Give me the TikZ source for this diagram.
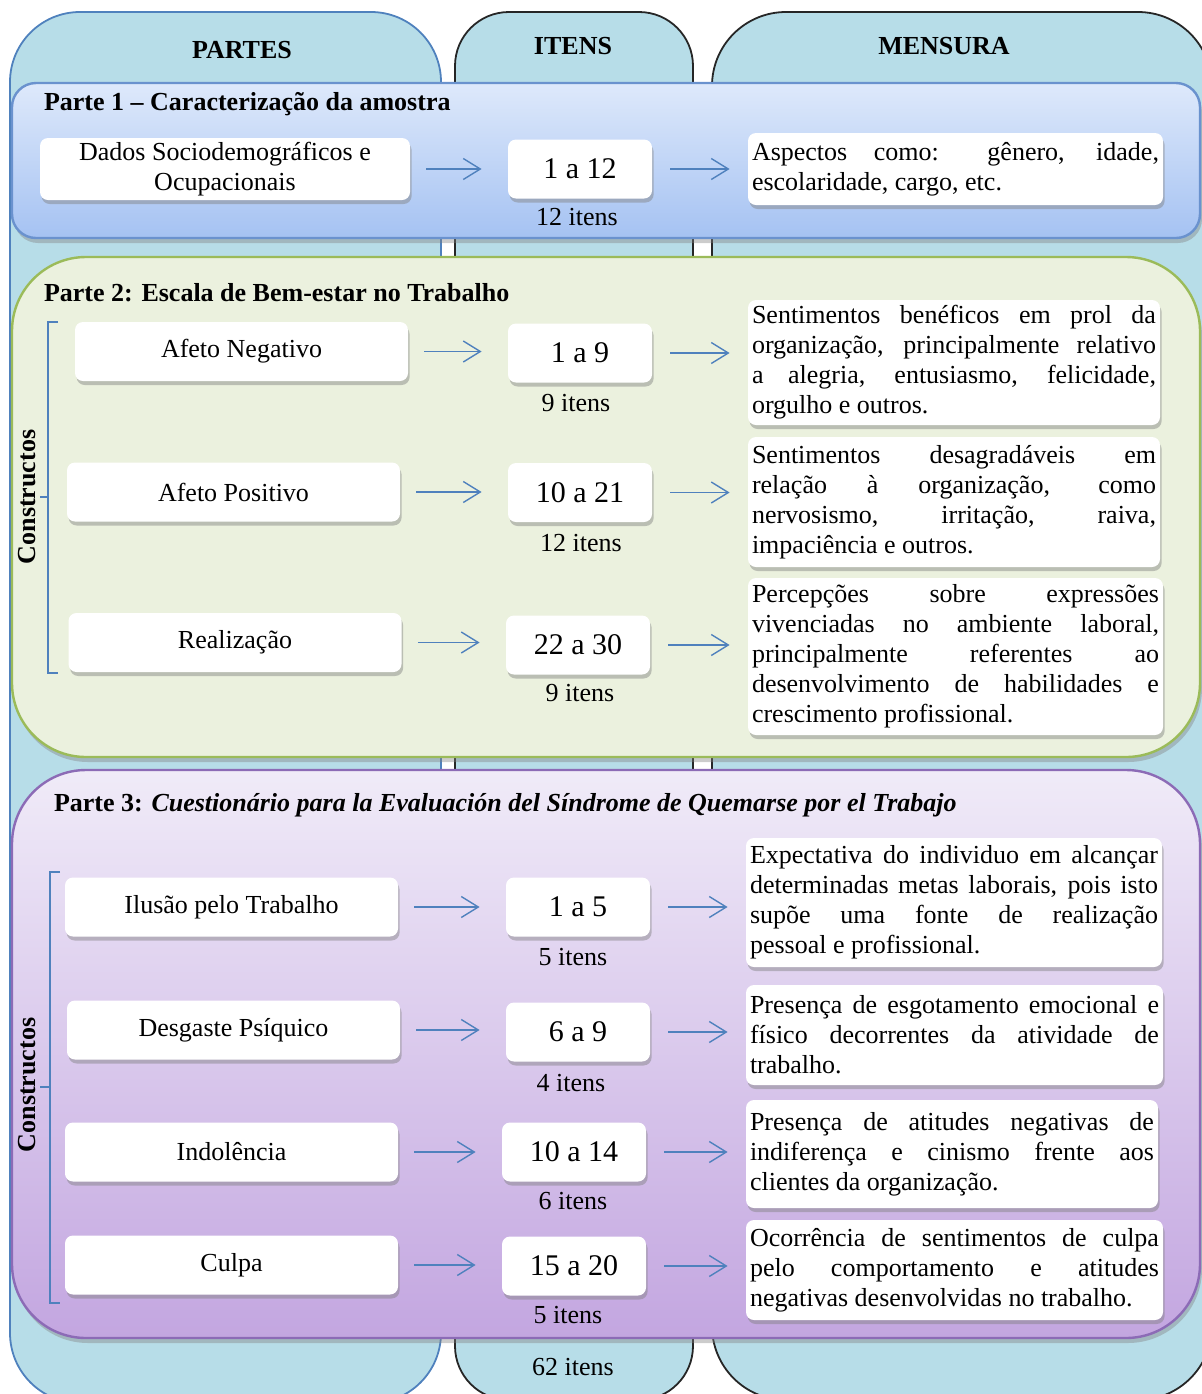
\documentclass[tikz,border=0pt]{standalone}
\usepackage{fontspec}
\setmainfont{Liberation Serif}
\usepackage{tikz}
\usetikzlibrary{arrows.meta, shadows}
\definecolor{colfill}{HTML}{B7DDE8}
\definecolor{colline}{HTML}{4F81BD}
\definecolor{coldark}{HTML}{262626}
\definecolor{ponetop}{HTML}{DEE9FB}
\definecolor{ponebot}{HTML}{A5C2F2}
\definecolor{poneline}{HTML}{6A92CE}
\definecolor{ptwofill}{HTML}{EBF1DE}
\definecolor{ptwoline}{HTML}{9BBB59}
\definecolor{pthreetop}{HTML}{F0EBF8}
\definecolor{pthreebot}{HTML}{C3A6E0}
\definecolor{pthreeline}{HTML}{8C6BB6}
\definecolor{arrowblue}{HTML}{4F81BD}

\begin{document}
\begin{tikzpicture}[x=0.5pt, y=-0.5pt,
    col/.style={fill=colfill, line width=0.9pt},
    panel/.style={line width=1.2pt, drop shadow={shadow xshift=1pt, shadow yshift=-2.5pt, opacity=0.4}},
    wbox/.style={fill=white, rounded corners=4pt, inner sep=2pt, drop shadow={shadow xshift=0.8pt, shadow yshift=-2pt, opacity=0.45}},
    lbl/.style={wbox, align=center, minimum width=166.5pt, minimum height=29.5pt, font=\fontsize{13}{15}\selectfont},
    num/.style={wbox, minimum width=72pt, minimum height=29.5pt, font=\fontsize{15}{17}\selectfont},
    desc/.style={wbox, align=justify, font=\fontsize{13}{15}\selectfont},
    its/.style={font=\fontsize{13}{15}\selectfont},
    head/.style={font=\bfseries\fontsize{13}{15}\selectfont},
    arr/.style={draw=arrowblue, line width=0.7pt, -{Straight Barb[length=8.5pt,width=10.5pt]}},
    arra/.style={arr, shorten <=8pt, shorten >=13pt},
    arrb/.style={arr, shorten <=9pt, shorten >=9pt},
    brk/.style={draw=colline, line width=0.8pt}]
      \useasboundingbox (0,0) rectangle (1202,1394);
      \clip (0,0) rectangle (1202,1394);

      % columns
      \draw [col, draw=colline, rounded corners=35pt] (10,1403) rectangle (441,12);
      \draw [col, draw=coldark, rounded corners=27pt] (455,1400) rectangle (693,12);
      \draw [col, draw=coldark, rounded corners=37pt] (712,1400) rectangle (1212,12);
      \node[head] (hd1) at (242,50) {PARTES};
      \node[head] (hd2) at (573,46) {ITENS};
      \node[head] (hd3) at (944,46) {MENSURA};

      % parte 1
      \draw [panel, top color=ponetop, bottom color=ponebot, draw=poneline, rounded corners=12pt] (12,83) rectangle (1200,238);
      \node[head, anchor=west] (p1t) at (37,104) {Parte 1 – Caracterização da amostra};
      \node[lbl, minimum width=185pt, minimum height=31pt] (p1l) at (225,169) {Dados Sociodemográficos e\\Ocupacionais};
      \node[num] (p1n) at (580,169) {1 a 12};
      \node[its] (p1i) at (577,217) {12 itens};
      \node[desc, text width=203.5pt, minimum height=36pt] (p1d) at (955.5,169) {Aspectos como: gênero, idade,\linebreak escolaridade, cargo, etc.};
      \draw [arra] (p1l.east) -- (p1l.east -| p1n.west);
      \draw [arrb] (p1n.east) -- (p1n.east -| p1d.west);

      % parte 2
      \draw [panel, fill=ptwofill, draw=ptwoline, rounded corners=37pt] (12,257) rectangle (1200,757);
      \node[head, anchor=west] (p2t) at (37,293) {Parte 2: Escala de Bem-estar no Trabalho};
      \node[head, rotate=90] (c2) at (27,497) {Constructos};
      \draw [brk] (58,322) -- (48,322) -- (48,673) -- (58,673);
      \draw [brk] (48,497) -- (40,497);

      \node[lbl] (p2a) at (241.5,351.5) {Afeto Negativo};
      \node[lbl] (p2b) at (233.5,492) {Afeto Positivo};
      \node[lbl] (p2c) at (235,642.5) {Realização};
      \node[num] (p2an) at (580,353) {1 a 9};
      \node[num] (p2bn) at (580,492.5) {10 a 21};
      \node[num] (p2cn) at (578,645) {22 a 30};
      \node[its] (p2ai) at (576,403) {9 itens};
      \node[its] (p2bi) at (581,543) {12 itens};
      \node[its] (p2ci) at (580,693) {9 itens};
      \node[desc, text width=202pt, minimum height=62.5pt] (p2ad) at (954,362.5) {Sentimentos benéficos em prol da\linebreak organização, principalmente relativo\linebreak a alegria, entusiasmo, felicidade,\linebreak orgulho e outros.};
      \node[desc, text width=202pt, minimum height=65pt] (p2bd) at (954,502) {Sentimentos desagradáveis em\linebreak relação à organização, como\linebreak nervosismo, irritação, raiva,\linebreak impaciência e outros.};
      \node[desc, text width=203.5pt, minimum height=78.5pt] (p2cd) at (955.5,656.5) {Percepções sobre expressões\linebreak vivenciadas no ambiente laboral,\linebreak principalmente referentes ao\linebreak desenvolvimento de habilidades e\linebreak crescimento profissional.};
      \draw [arra] (p2a.east) -- (p2a.east -| p2an.west);
      \draw [arra] (p2b.east) -- (p2b.east -| p2bn.west);
      \draw [arra] (p2c.east) -- (p2c.east -| p2cn.west);
      \draw [arrb] (p2an.east) -- (p2an.east -| p2ad.west);
      \draw [arrb] (p2bn.east) -- (p2bn.east -| p2bd.west);
      \draw [arrb] (p2cn.east) -- (p2cn.east -| p2cd.west);

      % parte 3
      \draw [panel, top color=pthreetop, bottom color=pthreebot, draw=pthreeline, rounded corners=37pt] (12,770) rectangle (1200,1338);
      \node[font=\fontsize{13}{15}\selectfont, anchor=west] (p3t) at (47,805) {\textbf{Parte 3: \textit{Cuestionário para la Evaluación del Síndrome de Quemarse por el Trabajo}}};
      \node[head, rotate=90] (c3) at (27,1085) {Constructos};
      \draw [brk] (60,872) -- (50,872) -- (50,1303) -- (60,1303);
      \draw [brk] (50,1087) -- (40,1087);

      \node[lbl] (p3a) at (231.5,907) {Ilusão pelo Trabalho};
      \node[lbl] (p3b) at (233.5,1030) {Desgaste Psíquico};
      \node[lbl] (p3c) at (231.5,1152) {Indolência};
      \node[lbl] (p3d) at (231.5,1265) {Culpa};
      \node[num] (p3an) at (578,907) {1 a 5};
      \node[num] (p3bn) at (578,1032) {6 a 9};
      \node[num] (p3cn) at (574,1152) {10 a 14};
      \node[num] (p3dn) at (574,1266) {15 a 20};
      \node[its] (p3ai) at (573,957) {5 itens};
      \node[its] (p3bi) at (571,1083) {4 itens};
      \node[its] (p3ci) at (573,1201) {6 itens};
      \node[its] (p3di) at (568,1315) {5 itens};
      \node[desc, text width=204pt, minimum height=64.5pt] (p3ad) at (954,902.5) {Expectativa do individuo em alcançar\linebreak determinadas metas laborais, pois isto\linebreak supõe uma fonte de realização\linebreak pessoal e profissional.};
      \node[desc, text width=204.5pt, minimum height=50pt] (p3bd) at (954.5,1035) {Presença de esgotamento emocional e\linebreak físico decorrentes da atividade de\linebreak trabalho.};
      \node[desc, text width=202pt, minimum height=54pt] (p3cd) at (952,1154) {Presença de atitudes negativas de\linebreak indiferença e cinismo frente aos\linebreak clientes da organização.};
      \node[desc, text width=204.5pt, minimum height=50pt] (p3dd) at (954.5,1270) {Ocorrência de sentimentos de culpa\linebreak pelo comportamento e atitudes\linebreak negativas desenvolvidas no trabalho.};
      \draw [arra] (p3a.east) -- (p3a.east -| p3an.west);
      \draw [arra] (p3b.east) -- (p3b.east -| p3bn.west);
      \draw [arra] (p3c.east) -- (p3c.east -| p3cn.west);
      \draw [arra] (p3d.east) -- (p3d.east -| p3dn.west);
      \draw [arrb] (p3an.east) -- (p3an.east -| p3ad.west);
      \draw [arrb] (p3bn.east) -- (p3bn.east -| p3bd.west);
      \draw [arrb] (p3cn.east) -- (p3cn.east -| p3cd.west);
      \draw [arrb] (p3dn.east) -- (p3dn.east -| p3dd.west);

      \node[its] (tot) at (573,1367) {62 itens};
\end{tikzpicture}
\end{document}
